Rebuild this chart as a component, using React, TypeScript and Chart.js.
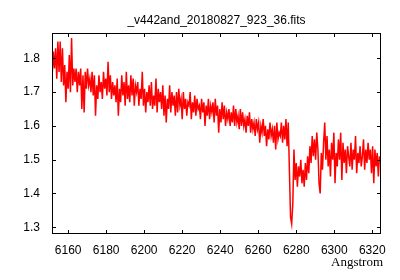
import React, { useEffect, useRef } from "react";
import { Chart, registerables } from "chart.js";

Chart.register(...registerables);

const TITLE = "_v442and_20180827_923_36.fits";
const X_LABEL = "Angstrom";
const X_MIN = 6151.5;
const X_MAX = 6324.6;
const Y_MIN = 1.28;
const Y_MAX = 1.875;
const X_TICKS = [6160, 6180, 6200, 6220, 6240, 6260, 6280, 6300, 6320];
const Y_TICKS = [1.3, 1.4, 1.5, 1.6, 1.7, 1.8];

// FITS-like linear wavelength grid: first pixel and dispersion (Angstrom)
const LAMBDA_START = 6151.6;
const LAMBDA_STEP = 0.6;

const FLUX = [
  1.75, 1.82, 1.77, 1.83, 1.74, 1.85, 1.76, 1.85, 1.73, 1.83,
  1.72, 1.78, 1.67, 1.76, 1.71, 1.81, 1.70, 1.86, 1.72, 1.77,
  1.73, 1.77, 1.70, 1.76, 1.72, 1.77, 1.65, 1.75, 1.64, 1.76,
  1.71, 1.77, 1.72, 1.74, 1.70, 1.76, 1.69, 1.75, 1.63, 1.72,
  1.68, 1.75, 1.70, 1.73, 1.68, 1.76, 1.71, 1.74, 1.69, 1.79,
  1.70, 1.75, 1.68, 1.73, 1.69, 1.72, 1.67, 1.74, 1.63, 1.71,
  1.67, 1.75, 1.69, 1.73, 1.66, 1.76, 1.68, 1.72, 1.67, 1.75,
  1.69, 1.74, 1.66, 1.72, 1.70, 1.73, 1.66, 1.71, 1.68, 1.76,
  1.66, 1.71, 1.64, 1.70, 1.67, 1.72, 1.66, 1.73, 1.65, 1.69,
  1.66, 1.74, 1.64, 1.71, 1.67, 1.70, 1.65, 1.72, 1.63, 1.69,
  1.61, 1.68, 1.65, 1.72, 1.64, 1.70, 1.66, 1.69, 1.63, 1.70,
  1.64, 1.71, 1.66, 1.68, 1.62, 1.70, 1.65, 1.68, 1.63, 1.67,
  1.66, 1.70, 1.62, 1.67, 1.64, 1.69, 1.63, 1.68, 1.65, 1.66,
  1.62, 1.68, 1.64, 1.67, 1.60, 1.66, 1.63, 1.68, 1.62, 1.66,
  1.64, 1.67, 1.61, 1.68, 1.63, 1.66, 1.58, 1.65, 1.61, 1.67,
  1.62, 1.66, 1.60, 1.64, 1.62, 1.65, 1.60, 1.64, 1.61, 1.66,
  1.60, 1.65, 1.61, 1.63, 1.59, 1.65, 1.60, 1.64, 1.60, 1.62,
  1.58, 1.63, 1.60, 1.64, 1.58, 1.62, 1.59, 1.61, 1.57, 1.62,
  1.59, 1.61, 1.55, 1.60, 1.58, 1.62, 1.57, 1.60, 1.54, 1.59,
  1.56, 1.61, 1.57, 1.59, 1.55, 1.60, 1.53, 1.61, 1.56, 1.58,
  1.57, 1.61, 1.55, 1.60, 1.56, 1.62, 1.54, 1.61, 1.47, 1.33,
  1.31, 1.37, 1.53, 1.44, 1.49, 1.42, 1.48, 1.45, 1.50, 1.43,
  1.47, 1.42, 1.49, 1.44, 1.51, 1.46, 1.54, 1.49, 1.57, 1.51,
  1.56, 1.50, 1.58, 1.53, 1.43, 1.40, 1.52, 1.47, 1.55, 1.61,
  1.50, 1.57, 1.48, 1.53, 1.45, 1.55, 1.50, 1.58, 1.43, 1.52,
  1.48, 1.56, 1.50, 1.58, 1.44, 1.55, 1.49, 1.53, 1.46, 1.54,
  1.51, 1.48, 1.55, 1.47, 1.53, 1.50, 1.57, 1.46, 1.52, 1.49,
  1.54, 1.48, 1.51, 1.56, 1.47, 1.53, 1.49, 1.55, 1.50, 1.53,
  1.46, 1.54, 1.43, 1.53, 1.48, 1.52, 1.45, 1.51,
];

const frameTicksPlugin = {
  id: "frameTicks",
  afterDraw(chart: any) {
    const { ctx, chartArea, scales } = chart;
    const { left, right, top, bottom } = chartArea;
    ctx.save();
    ctx.strokeStyle = "#000";
    ctx.lineWidth = 1;
    ctx.strokeRect(Math.round(left) + 0.5, Math.round(top) + 0.5, Math.round(right - left) - 1, Math.round(bottom - top) - 1);
    ctx.beginPath();
    const L = 4;
    X_TICKS.forEach((v) => {
      const x = Math.round(scales.x.getPixelForValue(v)) + 0.5;
      ctx.moveTo(x, bottom);
      ctx.lineTo(x, bottom - L);
      ctx.moveTo(x, top);
      ctx.lineTo(x, top + L);
    });
    Y_TICKS.forEach((v) => {
      const y = Math.round(scales.y.getPixelForValue(v)) + 0.5;
      ctx.moveTo(left, y);
      ctx.lineTo(left + L, y);
      ctx.moveTo(right, y);
      ctx.lineTo(right - L, y);
    });
    ctx.stroke();
    ctx.fillStyle = "#000";
    ctx.font = "12px 'Liberation Sans'";
    ctx.textAlign = "center";
    ctx.textBaseline = "alphabetic";
    ctx.fillText(TITLE, (left + right) / 2, 23.5);
    ctx.font = "13px 'Liberation Serif'";
    ctx.textAlign = "right";
    ctx.fillText(X_LABEL, 383, 266);
    ctx.restore();
  },
};

export default function App() {
  const ref = useRef<HTMLCanvasElement | null>(null);
  useEffect(() => {
    if (!ref.current) return;
    const points = FLUX.map((y, i) => ({ x: LAMBDA_START + i * LAMBDA_STEP, y }));
    const chart = new Chart(ref.current, {
      type: "line",
      data: {
        datasets: [
          {
            data: points,
            borderColor: "rgb(255,0,0)",
            borderWidth: 1.5,
            pointRadius: 0,
            tension: 0,
            fill: false,
          },
        ],
      },
      options: {
        animation: false,
        responsive: true,
        maintainAspectRatio: false,
        layout: { padding: { left: 0, right: 19, top: 33, bottom: 0 } },
        plugins: { legend: { display: false }, tooltip: { enabled: false }, title: { display: false } },
        scales: {
          x: {
            type: "linear",
            min: X_MIN,
            max: X_MAX,
            border: { display: false },
            grid: { display: false, drawTicks: false },
            afterBuildTicks: (s: any) => {
              s.ticks = X_TICKS.map((v) => ({ value: v }));
            },
            afterFit: (s: any) => {
              s.height = 46;
            },
            ticks: {
              autoSkip: false,
              maxRotation: 0,
              padding: 9,
              color: "#000",
              font: { family: "'Liberation Sans'", size: 12 },
              callback: (v: any) => String(v),
            },
          },
          y: {
            type: "linear",
            min: Y_MIN,
            max: Y_MAX,
            border: { display: false },
            grid: { display: false, drawTicks: false },
            afterBuildTicks: (s: any) => {
              s.ticks = Y_TICKS.map((v) => ({ value: v }));
            },
            afterFit: (s: any) => {
              s.width = 52;
            },
            ticks: {
              autoSkip: false,
              padding: 12,
              color: "#000",
              font: { family: "'Liberation Sans'", size: 12 },
              callback: (v: any) => Number(v).toFixed(1),
            },
          },
        },
      },
      plugins: [frameTicksPlugin],
    });
    return () => chart.destroy();
  }, []);
  return (
    <div style={{ position: "fixed", left: 0, top: 0, width: 400, height: 280, background: "#fff" }}>
      <canvas ref={ref} />
    </div>
  );
}
